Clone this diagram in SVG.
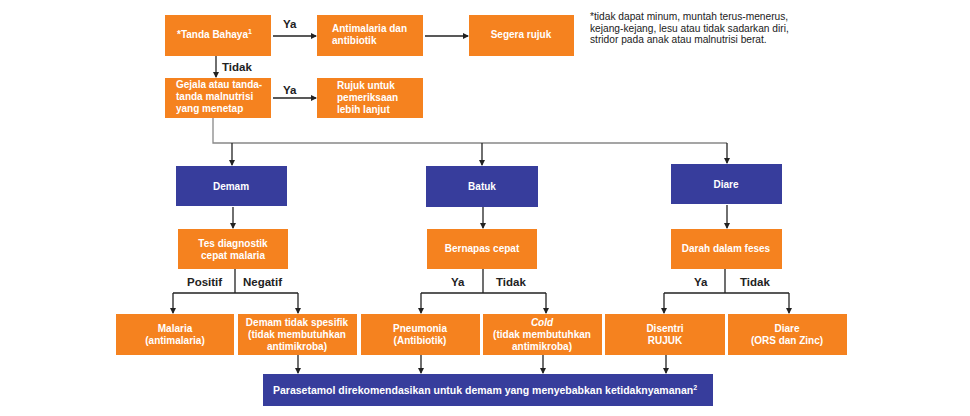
<svg xmlns="http://www.w3.org/2000/svg" width="970" height="416" viewBox="0 0 970 416">
<defs>
<marker id="ah" markerWidth="6" markerHeight="6" refX="5" refY="3" orient="auto" markerUnits="userSpaceOnUse">
<path d="M0,0 L6,3 L0,6 z" fill="#222"/>
</marker>
<style>
.o{fill:#f5821f}
.b{fill:#373d9c}
.t{font-family:"Liberation Sans",Arial,sans-serif;font-size:10px;font-weight:bold;fill:#fff}
.c{text-anchor:middle}
.l{font-family:"Liberation Sans",Arial,sans-serif;font-size:11.5px;font-weight:bold;fill:#222}
.n{font-family:"Liberation Sans",Arial,sans-serif;font-size:10.2px;fill:#222}
.k{fill:none;stroke:#222;stroke-width:1.3}
.g{fill:none;stroke:#888;stroke-width:1.3}
.a{marker-end:url(#ah)}
.sup{font-size:7px}
</style>
</defs>
<rect width="970" height="416" fill="#fff"/>

<g id="connectors">
<path class="k a" d="M273,36 H316"/>
<path class="k a" d="M425,36 H468"/>
<path class="k a" d="M216,56 V77"/>
<path class="k a" d="M273,98 H316"/>
<path class="g" d="M213,118 V143 H727"/>
<path class="k a" d="M232,143 V165"/>
<path class="k a" d="M482,143 V165"/>
<path class="k a" d="M727,143 V163"/>
<path class="k a" d="M233,207 V228"/>
<path class="k a" d="M483,207 V228"/>
<path class="k a" d="M727,205 V228"/>
<path class="k" d="M235,269 V293 M173,293 H298"/>
<path class="k a" d="M173,293 V313"/>
<path class="k a" d="M298,293 V313"/>
<path class="k" d="M483,269 V293 M421,293 H546"/>
<path class="k a" d="M421,293 V313"/>
<path class="k a" d="M546,293 V313"/>
<path class="k" d="M725,269 V293 M664,293 H789"/>
<path class="k a" d="M664,293 V313"/>
<path class="k a" d="M789,293 V313"/>
<path class="k a" d="M298,355 V373"/>
<path class="k a" d="M421,355 V373"/>
<path class="k a" d="M543,355 V373"/>
<path class="k a" d="M666,355 V373"/>
<text class="l" x="283" y="28">Ya</text>
<text class="l" x="222" y="71">Tidak</text>
<text class="l" x="283" y="94">Ya</text>
<text class="l" x="187" y="286">Positif</text>
<text class="l" x="243" y="286">Negatif</text>
<text class="l" x="451" y="286">Ya</text>
<text class="l" x="496" y="286">Tidak</text>
<text class="l" x="694" y="286">Ya</text>
<text class="l" x="740" y="286">Tidak</text>
</g>

<g id="tanda">
<rect class="o" x="165" y="15" width="106" height="41"/>
<text class="t" x="177" y="38">*Tanda Bahaya<tspan class="sup" dy="-4">1</tspan></text>
</g>
<g id="antimalaria">
<rect class="o" x="317" y="15" width="106" height="41"/>
<text class="t" x="332" y="32">Antimalaria dan</text>
<text class="t" x="332" y="44">antibiotik</text>
</g>
<g id="segera">
<rect class="o" x="469" y="15" width="105" height="41"/>
<text class="t c" x="521" y="38">Segera rujuk</text>
</g>
<g id="footnote">
<text class="n" x="590" y="20">*tidak dapat minum, muntah terus-menerus,</text>
<text class="n" x="590" y="32">kejang-kejang, lesu atau tidak sadarkan diri,</text>
<text class="n" x="590" y="43">stridor pada anak atau malnutrisi berat.</text>
</g>
<g id="gejala">
<rect class="o" x="165" y="78" width="106" height="40"/>
<text class="t" x="176" y="88">Gejala atau tanda-</text>
<text class="t" x="176" y="100">tanda malnutrisi</text>
<text class="t" x="176" y="112">yang menetap</text>
</g>
<g id="rujuk">
<rect class="o" x="317" y="78" width="106" height="40"/>
<text class="t" x="337" y="89">Rujuk untuk</text>
<text class="t" x="337" y="101">pemeriksaan</text>
<text class="t" x="337" y="113">lebih lanjut</text>
</g>

<g id="demam">
<rect class="b" x="176" y="166" width="111" height="40"/>
<text class="t c" x="231" y="190">Demam</text>
</g>
<g id="batuk">
<rect class="b" x="426" y="166" width="112" height="41"/>
<text class="t c" x="482" y="190">Batuk</text>
</g>
<g id="diare">
<rect class="b" x="671" y="164" width="111" height="40"/>
<text class="t c" x="726" y="188">Diare</text>
</g>

<g id="tes">
<rect class="o" x="178" y="229" width="110" height="40"/>
<text class="t c" x="233" y="247">Tes diagnostik</text>
<text class="t c" x="233" y="259">cepat malaria</text>
</g>
<g id="bernapas">
<rect class="o" x="427" y="229" width="110" height="40"/>
<text class="t c" x="482" y="252">Bernapas cepat</text>
</g>
<g id="darah">
<rect class="o" x="671" y="229" width="111" height="40"/>
<text class="t c" x="726" y="252">Darah dalam feses</text>
</g>

<g id="malaria">
<rect class="o" x="116" y="314" width="118" height="41"/>
<text class="t c" x="175" y="332">Malaria</text>
<text class="t c" x="175" y="344">(antimalaria)</text>
</g>
<g id="demam-ns">
<rect class="o" x="238" y="314" width="119" height="41"/>
<text class="t c" x="297" y="326">Demam tidak spesifik</text>
<text class="t c" x="297" y="338">(tidak membutuhkan</text>
<text class="t c" x="297" y="350">antimikroba)</text>
</g>
<g id="pneumonia">
<rect class="o" x="361" y="314" width="119" height="41"/>
<text class="t c" x="420" y="332">Pneumonia</text>
<text class="t c" x="420" y="344">(Antibiotik)</text>
</g>
<g id="cold">
<rect class="o" x="483" y="314" width="119" height="41"/>
<text class="t c" x="542" y="326" style="font-style:italic">Cold</text>
<text class="t c" x="542" y="338">(tidak membutuhkan</text>
<text class="t c" x="542" y="350">antimikroba)</text>
</g>
<g id="disentri">
<rect class="o" x="605" y="314" width="120" height="41"/>
<text class="t c" x="665" y="332">Disentri</text>
<text class="t c" x="665" y="344">RUJUK</text>
</g>
<g id="diare-ors">
<rect class="o" x="728" y="314" width="119" height="41"/>
<text class="t c" x="787" y="332">Diare</text>
<text class="t c" x="787" y="344">(ORS dan Zinc)</text>
</g>

<g id="parasetamol">
<rect class="b" x="263" y="374" width="450" height="32"/>
<text class="t" x="273" y="394" style="font-size:10.5px">Parasetamol direkomendasikan untuk demam yang menyebabkan ketidaknyamanan<tspan class="sup" dy="-4">2</tspan></text>
</g>
</svg>
